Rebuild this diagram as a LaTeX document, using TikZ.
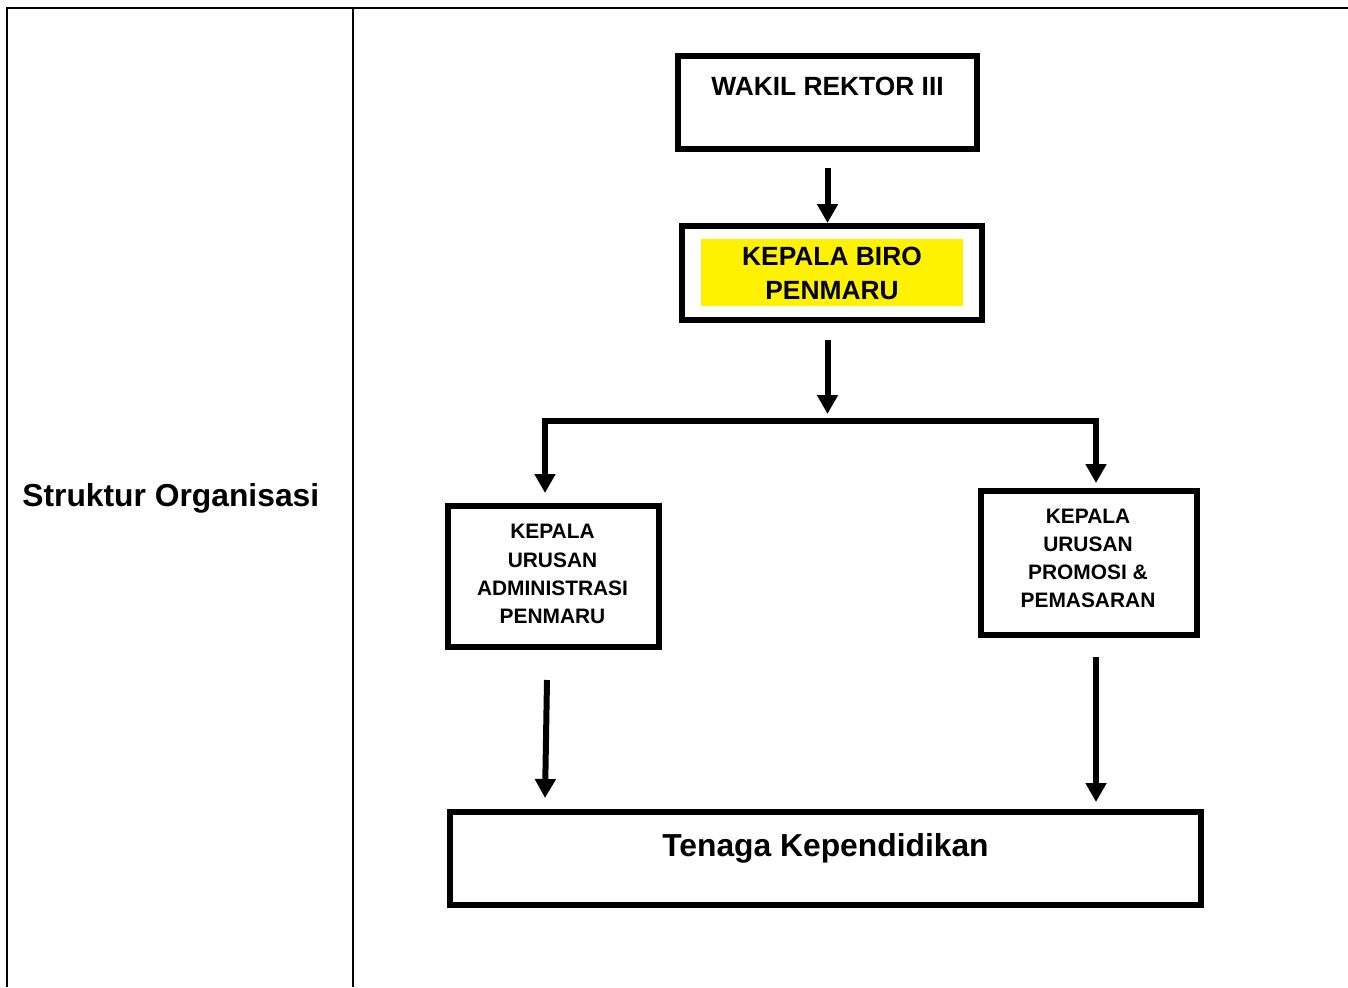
\documentclass[tikz,border=0pt]{standalone}
\usepackage{fontspec}
\setmainfont{Liberation Sans}
\usetikzlibrary{arrows.meta,calc}
\begin{document}
\begin{tikzpicture}[x=0.02cm,y=-0.02cm,
  box/.style={draw, line width=0.12cm, inner sep=0pt},
  tbl/.style={line width=0.04cm},
  arr/.style={line width=0.12cm, -{Triangle[width=0.4cm,length=0.38cm]}},
  arrboth/.style={line width=0.12cm, {Triangle[width=0.4cm,length=0.38cm]}-{Triangle[width=0.4cm,length=0.38cm]}},
  big/.style={font=\fontsize{18.1pt}{21pt}\selectfont\bfseries, inner sep=0pt},
  mid/.style={font=\fontsize{15pt}{18pt}\selectfont\bfseries, inner sep=0pt},
  small/.style={font=\fontsize{11.9pt}{14pt}\selectfont\bfseries, inner sep=0pt}]
\useasboundingbox (0,0) rectangle (1348,987);
% table
\draw[tbl] (7,987) -- (7,8) -- (1348,8);
\draw[tbl] (353,8) -- (353,987);
\node[big, anchor=base west] (so) at (22,506) {Struktur Organisasi};
% boxes
\node[box, minimum width=5.98cm, minimum height=1.86cm] (wr) at (827.5,102.5) {};
\node[mid, anchor=base] (wrt) at (827.5,95.5) {WAKIL REKTOR III};
\node[box, minimum width=6.00cm, minimum height=1.88cm] (biro) at (832,273) {};
\node[fill=yellow, inner sep=0pt, minimum width=5.24cm, minimum height=1.34cm] (birobg) at (832,272.5) {};
\node[mid, anchor=base] (birot1) at (832,265) {KEPALA BIRO};
\node[mid, anchor=base] (birot2) at (832,299) {PENMARU};
\node[box, minimum width=4.22cm, minimum height=2.82cm] (adm) at (553.5,576.5) {};
\node[small, anchor=base] (admt1) at (552.5,538.5) {KEPALA};
\node[small, anchor=base] (admt2) at (552.5,567.5) {URUSAN};
\node[small, anchor=base] (admt3) at (552.5,595.5) {ADMINISTRASI};
\node[small, anchor=base] (admt4) at (552.5,623.5) {PENMARU};
\node[box, minimum width=4.32cm, minimum height=2.88cm] (prom) at (1089,563) {};
\node[small, anchor=base] (promt1) at (1088,523.5) {KEPALA};
\node[small, anchor=base] (promt2) at (1088,551.5) {URUSAN};
\node[small, anchor=base] (promt3) at (1088,579.5) {PROMOSI \&};
\node[small, anchor=base] (promt4) at (1088,607.5) {PEMASARAN};
\node[box, minimum width=15.02cm, minimum height=1.86cm] (ten) at (825.5,858.5) {};
\node[big, anchor=base] (tent) at (825.5,856.5) {Tenaga Kependidikan};
% connectors
\coordinate (j) at (827.5,421);
\coordinate (jl) at (545,421);
\coordinate (jr) at (1096,421);
\coordinate (a1) at ($(wr.south)+(0,16)$);
\draw[arr] (a1) -- (a1 |- biro.north);
\coordinate (a2) at ($(biro.south)+(0,17)$);
\draw[arr] (j |- a2) -- ($(j)+(0,-7)$);
\draw[arrboth] ($(jl |- adm.north)+(0,-10)$) -- (jl) -- (jr) -- ($(jr |- prom.north)+(0,-5)$);
\draw[arr] ($(adm.south)+(-6.5,30)$) -- ($(jl |- ten.north)+(0,-11)$);
\draw[arr] ($(jr |- prom.south)+(0,19)$) -- ($(jr |- ten.north)+(0,-7)$);
\end{tikzpicture}
\end{document}
